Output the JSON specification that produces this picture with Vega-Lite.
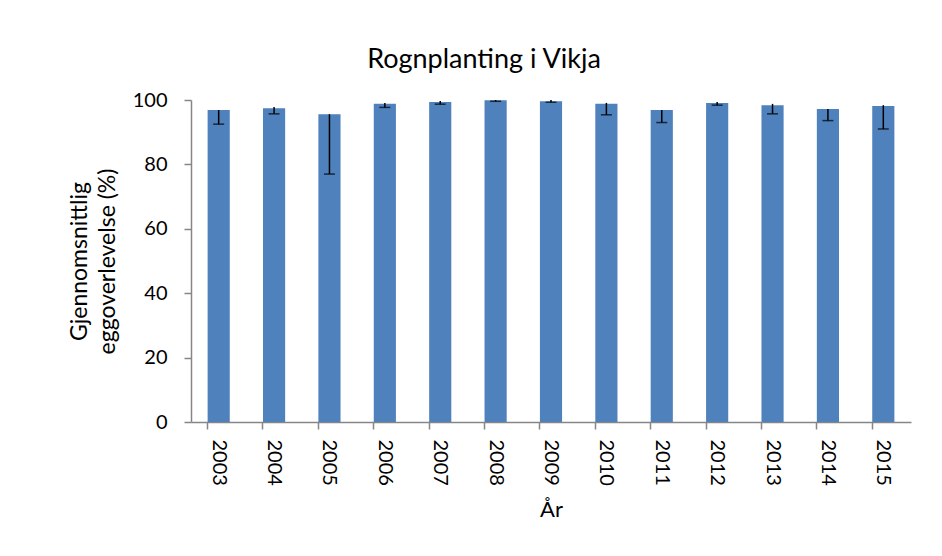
{
  "$schema": "https://vega.github.io/schema/vega-lite/v6.json",
  "width": 720,
  "height": 322,
  "autosize": {"type": "none"},
  "padding": {"left": 191, "top": 100, "right": 31, "bottom": 134},
  "background": "white",
  "config": {
    "font": "Lato",
    "view": {"stroke": null},
    "axis": {
      "domainColor": "#868686",
      "domainWidth": 1.5,
      "tickColor": "#868686",
      "tickWidth": 1.5,
      "tickSize": 7,
      "grid": false,
      "labelColor": "#000000",
      "titleColor": "#000000",
      "labelFont": "Lato",
      "titleFont": "Lato",
      "labelFontSize": 20,
      "titleFontSize": 22,
      "titleFontWeight": "normal"
    }
  },
  "title": {
    "text": "Rognplanting i Vikja",
    "font": "Lato",
    "fontSize": 27,
    "fontWeight": "normal",
    "color": "#000000",
    "anchor": "middle",
    "offset": 16,
    "dx": -67
  },
  "data": {
    "values": [
      {"year": "2003", "mean": 96.9, "hi": 96.9, "lo": 92.5},
      {"year": "2004", "mean": 97.4, "hi": 97.8, "lo": 95.7},
      {"year": "2005", "mean": 95.6, "hi": 95.6, "lo": 77.0},
      {"year": "2006", "mean": 98.8, "hi": 99.1, "lo": 97.7},
      {"year": "2007", "mean": 99.4, "hi": 99.7, "lo": 98.7},
      {"year": "2008", "mean": 99.9, "hi": 100.0, "lo": 99.6},
      {"year": "2009", "mean": 99.6, "hi": 100.0, "lo": 99.3},
      {"year": "2010", "mean": 98.8, "hi": 99.1, "lo": 95.4},
      {"year": "2011", "mean": 96.9, "hi": 96.9, "lo": 93.0},
      {"year": "2012", "mean": 99.1, "hi": 99.4, "lo": 98.4},
      {"year": "2013", "mean": 98.4, "hi": 98.8, "lo": 95.7},
      {"year": "2014", "mean": 97.2, "hi": 97.2, "lo": 93.6},
      {"year": "2015", "mean": 98.1, "hi": 98.4, "lo": 91.0}
    ]
  },
  "encoding": {
    "x": {
      "field": "year",
      "type": "nominal",
      "scale": {"paddingInner": 0.6, "paddingOuter": 0.3},
      "axis": {
        "title": "År",
        "labelAngle": 90,
        "labelAlign": "left",
        "labelBaseline": "middle",
        "labelPadding": 10,
        "bandPosition": 0,
        "titlePadding": 14
      }
    }
  },
  "layer": [
    {
      "mark": {"type": "bar", "color": "#4F81BD"},
      "encoding": {
        "y": {
          "field": "mean",
          "type": "quantitative",
          "scale": {"domain": [0, 100], "nice": false},
          "axis": {
            "title": ["Gjennomsnittlig", "eggoverlevelse (%)"],
            "titleFontSize": 23,
            "titleLineHeight": 28,
            "titlePadding": 13,
            "values": [0, 20, 40, 60, 80, 100],
            "labelPadding": 17
          }
        }
      }
    },
    {
      "mark": {"type": "rule", "color": "#000000", "strokeWidth": 1.5},
      "encoding": {
        "y": {"field": "hi", "type": "quantitative"},
        "y2": {"field": "lo"}
      }
    },
    {
      "mark": {"type": "tick", "color": "#000000", "thickness": 1.5, "size": 11},
      "encoding": {
        "y": {"field": "lo", "type": "quantitative"}
      }
    }
  ]
}
